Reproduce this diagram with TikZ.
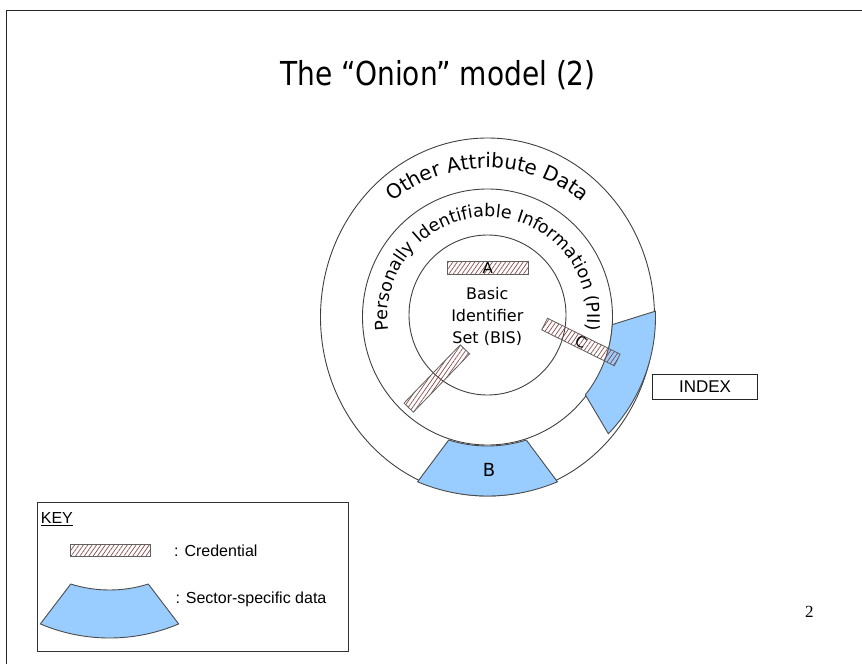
\documentclass[tikz,border=0pt]{standalone}
\usepackage{fontspec}
\setmainfont{DejaVu Sans}
\newfontfamily\arialf{Liberation Sans}
\newfontfamily\titlef{DejaVu Sans}[FakeStretch=0.85]
\newfontfamily\numf{Liberation Serif}
\usetikzlibrary{calc,decorations.text,patterns.meta}
\definecolor{ringline}{HTML}{404040}
\definecolor{sectorblue}{HTML}{99CCFF}
\definecolor{hatchred}{HTML}{8A4848}
\definecolor{credline}{HTML}{606060}
\newcommand\sectorshape[2]{(-17.5:#1) arc[start angle=-17.5, end angle=17.5, radius=#1] -- (23:#2) arc[start angle=23, end angle=-23, radius=#2] -- cycle}
\begin{document}
\begin{tikzpicture}[x=1pt,y=1pt,
  ring/.style={draw=ringline, line width=0.9pt},
  sector/.style={fill=sectorblue, draw=black!70, line width=0.9pt},
  cred/.style={draw=credline, line width=0.8pt, minimum width=81pt, minimum height=13pt, inner sep=0pt,
    pattern={Lines[angle=55,distance=3.6pt,line width=0.7pt]}, pattern color=hatchred,
    font=\fontsize{15}{18}\selectfont},
  frame/.style={draw=black!85, line width=0.9pt}]
\useasboundingbox (0,0) rectangle (862,-664);
% slide frame
\coordinate (fc) at (6,-10);
\coordinate (fr) at (862,-10);
\coordinate (fb) at (6,-664);
\draw[frame] (fr) -- (fc) -- (fb);
% title
\node[anchor=base, font=\titlef\fontsize{33}{40}\selectfont] (title) at (438.2,-85) {The “Onion” model (2)};
% rings
\coordinate (O) at (487.5,-317);
\coordinate (Oi) at (487.5,-315);
\draw[ring] (O) ellipse[x radius=167, y radius=179];
\draw[ring] (O) ellipse[x radius=125, y radius=128];
\draw[ring] (Oi) ellipse[x radius=78.5, y radius=80];
% ring texts
\path[decorate, decoration={text along path, text align=center,
  text={|\fontsize{20}{24}\selectfont|Other Attribute Data}}]
  ($(O)+(160:149)$) arc[start angle=160, end angle=20, radius=149];
\path[decorate, decoration={text along path, text align=center,
  text={|\fontsize{17.5}{21}\selectfont|Personally Identifiable Information (PII)}}]
  ($(O)+(200:100)$) arc[start angle=200, end angle=-20, radius=100];
% sector-specific data
\begin{scope}[shift={(O)}, rotate=270]
  \path[sector] \sectorshape{129}{179};
\end{scope}
\begin{scope}[shift={(O)}, rotate=-21]
  \path[sector] \sectorshape{125}{168};
\end{scope}
\node[font=\fontsize{18}{22}\selectfont] (labB) at (489,-470) {B};
% BIS
\node[align=center, font=\fontsize{16}{22.2}\selectfont] (bis) at (487.3,-316.2) {Basic\\Identifier\\Set (BIS)};
% credentials
\node[cred] (credA) at (487.7,-267.7) {A};
\node[cred, rotate=-26.3] (credC) at (580.9,-342) {C};
\node[cred, rotate=46] (credD) at (436.8,-378.5) {};
% index
\node[draw=black!85, line width=0.8pt, minimum width=104.6pt, minimum height=25pt, inner sep=0pt,
  font=\arialf\fontsize{17}{20}\selectfont] (index) at (705,-386.5) {INDEX};
% key
\node[draw=black!80, line width=0.9pt, minimum width=310.7pt, minimum height=149.3pt, anchor=north west, inner sep=0pt] (keybox) at (37.3,-501.7) {};
\node[anchor=base west, inner sep=0pt, font=\arialf\fontsize{16}{19}\selectfont] (keytitle) at (40.7,-523.3) {\underline{KEY}};
\node[cred, minimum width=80pt, minimum height=12pt] (keycred) at (110,-550.8) {};
\node[anchor=base west, inner sep=0pt, font=\arialf\fontsize{16}{19}\selectfont] (credtext) at (174,-556.7) {: Credential};
\begin{scope}[shift={(109.5,-461)}, rotate=270]
  \path[sector] \sectorshape{129}{177};
\end{scope}
\node[anchor=base west, inner sep=0pt, font=\arialf\fontsize{16}{19}\selectfont] (sectortext) at (175.3,-603.3) {: Sector-specific data};
% page number
\node[font=\numf\fontsize{17}{20}\selectfont] (pagenum) at (809.3,-611.7) {2};
\end{tikzpicture}
\end{document}
